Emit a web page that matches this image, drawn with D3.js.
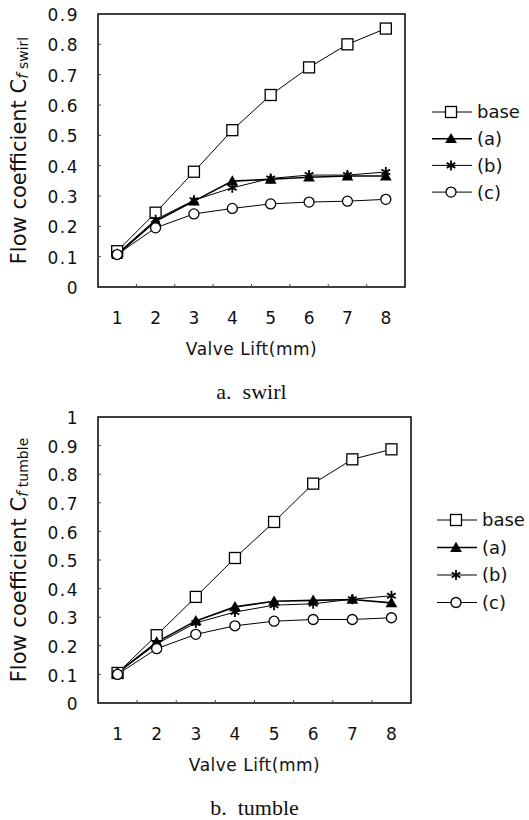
<!DOCTYPE html>
<html>
<head>
<meta charset="utf-8">
<script src="https://cdn.jsdelivr.net/npm/d3@7"></script>
<style>
  body { margin: 0; background: #fff; }
  text { font-family: "DejaVu Sans", Arial, sans-serif; fill: #111; }
  .caption { font-family: "Liberation Serif", "Times New Roman", serif; }
</style>
</head>
<body>
<div id="chart"></div>
<script>
// valve lift categories (mm)
const lifts = [1, 2, 3, 4, 5, 6, 7, 8];
const seriesNames = ["base", "(a)", "(b)", "(c)"];

// swirl flow coefficient
const swirlBase = [0.118, 0.245, 0.380, 0.517, 0.633, 0.724, 0.800, 0.852];
const swirlA    = [0.107, 0.217, 0.283, 0.349, 0.355, 0.362, 0.366, 0.366];
const swirlB    = [0.110, 0.222, 0.286, 0.327, 0.358, 0.369, 0.369, 0.379];
const swirlC    = [0.107, 0.195, 0.241, 0.259, 0.274, 0.280, 0.283, 0.289];

// tumble flow coefficient
const tumbleBase = [0.105, 0.237, 0.371, 0.507, 0.633, 0.767, 0.852, 0.887];
const tumbleA    = [0.105, 0.213, 0.287, 0.336, 0.356, 0.359, 0.362, 0.350];
const tumbleB    = [0.105, 0.207, 0.280, 0.318, 0.342, 0.347, 0.363, 0.375];
const tumbleC    = [0.100, 0.190, 0.240, 0.270, 0.286, 0.292, 0.292, 0.298];

const swirlTicks = [0, 0.1, 0.2, 0.3, 0.4, 0.5, 0.6, 0.7, 0.8, 0.9];
const tumbleTicks = [0, 0.1, 0.2, 0.3, 0.4, 0.5, 0.6, 0.7, 0.8, 0.9, 1];

const svg = d3.select("#chart").append("svg")
    .attr("width", 529)
    .attr("height", 820);

const markerShapes = ["square", "triangle", "star", "circle"];

function drawMarker(g, shape, x, y) {
    if (shape === "square") {
        g.append("rect")
            .attr("x", x - 5.5).attr("y", y - 5.5)
            .attr("width", 11).attr("height", 11)
            .attr("fill", "#fff").attr("stroke", "#000").attr("stroke-width", 1.3);
    } else if (shape === "triangle") {
        g.append("path")
            .attr("d", d3.symbol(d3.symbolTriangle, 60)())
            .attr("transform", `translate(${x},${y + 1})`)
            .attr("fill", "#000");
    } else if (shape === "star") {
        g.append("path")
            .attr("d", d3.symbol(d3.symbolAsterisk, 70)())
            .attr("transform", `translate(${x},${y})`)
            .attr("fill", "none").attr("stroke", "#000").attr("stroke-width", 1.8);
    } else {
        g.append("circle")
            .attr("cx", x).attr("cy", y).attr("r", 5)
            .attr("fill", "#fff").attr("stroke", "#000").attr("stroke-width", 1.3);
    }
}

function drawChart(opts) {
    const g = svg.append("g");
    const x = d3.scaleBand().domain(lifts).range([opts.left, opts.right]);
    const y = d3.scaleLinear().domain([0, opts.ymax]).range([opts.bottom, opts.top]);
    const cx = d => x(d) + x.bandwidth() / 2;

    // frame
    g.append("rect")
        .attr("x", opts.left).attr("y", opts.top)
        .attr("width", opts.right - opts.left).attr("height", opts.bottom - opts.top)
        .attr("fill", "none").attr("stroke", "#000").attr("stroke-width", 1.5);

    // small inner ticks on y axis
    g.selectAll(".ytick").data(opts.ticks.slice(1, -1)).enter().append("line")
        .attr("x1", opts.left).attr("x2", opts.left + 3)
        .attr("y1", d => y(d)).attr("y2", d => y(d))
        .attr("stroke", "#444").attr("stroke-width", 1);

    // small inner ticks on x axis, between categories
    g.selectAll(".xtick").data(lifts.slice(1)).enter().append("line")
        .attr("x1", d => x(d)).attr("x2", d => x(d))
        .attr("y1", opts.bottom).attr("y2", opts.bottom - 3)
        .attr("stroke", "#444").attr("stroke-width", 1);

    // y tick labels
    g.selectAll(".ylab").data(opts.ticks).enter().append("text")
        .attr("x", 79).attr("y", d => y(d) + 1)
        .attr("dy", "0.36em")
        .attr("text-anchor", "end")
        .style("font-size", "17px")
        .style("letter-spacing", "1.5px")
        .text(d => d === 0 ? "0" : d === 1 ? "1" : d3.format(".1f")(d));

    // x tick labels
    g.selectAll(".xlab").data(lifts).enter().append("text")
        .attr("x", d => cx(d)).attr("y", opts.bottom + 31)
        .attr("dy", "0.36em")
        .attr("text-anchor", "middle")
        .style("font-size", "17px")
        .text(d => d);

    // x title
    g.append("text")
        .attr("x", (opts.left + opts.right) / 2).attr("y", opts.bottom + 62)
        .attr("dy", "0.36em")
        .attr("text-anchor", "middle")
        .style("font-size", "17px")
        .style("letter-spacing", "0.5px")
        .text("Valve Lift(mm)");

    // caption
    g.append("text")
        .attr("class", "caption")
        .attr("x", (opts.left + opts.right) / 2).attr("y", opts.bottom + 104)
        .attr("dy", "0.36em")
        .attr("text-anchor", "middle")
        .style("font-size", "22px")
        .attr("xml:space", "preserve")
        .text(opts.caption);

    // y title
    const yt = g.append("text")
        .attr("transform", `translate(26,${(opts.top + opts.bottom) / 2}) rotate(-90)`)
        .attr("text-anchor", "middle")
        .style("font-size", "21px");
    yt.append("tspan").text("Flow coefficient C");
    yt.append("tspan").style("font-style", "italic").style("font-size", "15px").attr("dy", 2).text("f");
    yt.append("tspan").style("font-size", "14px").attr("dy", 0).text(" " + opts.sub);

    // series
    const line = d3.line().x((d, i) => cx(lifts[i])).y(d => y(d));
    opts.series.forEach((vals, k) => {
        g.append("path")
            .datum(vals)
            .attr("d", line)
            .attr("fill", "none")
            .attr("stroke", "#000")
            .attr("stroke-width", k === 1 ? 1.6 : 1);
    });
    opts.series.forEach((vals, k) => {
        vals.forEach((v, i) => drawMarker(g, markerShapes[k], cx(lifts[i]), y(v)));
    });

    // legend
    seriesNames.forEach((name, k) => {
        const ly = opts.legendTop + k * opts.legendGap;
        g.append("line")
            .attr("x1", opts.legendX).attr("x2", opts.legendX + 40)
            .attr("y1", ly).attr("y2", ly)
            .attr("stroke", "#000").attr("stroke-width", k === 1 ? 1.6 : 1);
        drawMarker(g, markerShapes[k], opts.legendX + 19, ly);
        g.append("text")
            .attr("x", opts.legendX + 45).attr("y", ly)
            .attr("dy", "0.36em")
            .style("font-size", "18px")
            .text(name);
    });
}

drawChart({
    left: 98, right: 405, top: 14, bottom: 287, ymax: 0.9,
    ticks: swirlTicks,
    series: [swirlBase, swirlA, swirlB, swirlC],
    caption: "a.  swirl", sub: "swirl",
    legendX: 432, legendTop: 112, legendGap: 26.7
});

drawChart({
    left: 98, right: 411, top: 417, bottom: 703, ymax: 1,
    ticks: tumbleTicks,
    series: [tumbleBase, tumbleA, tumbleB, tumbleC],
    caption: "b.  tumble", sub: "tumble",
    legendX: 437, legendTop: 520, legendGap: 27.5
});
</script>
</body>
</html>
